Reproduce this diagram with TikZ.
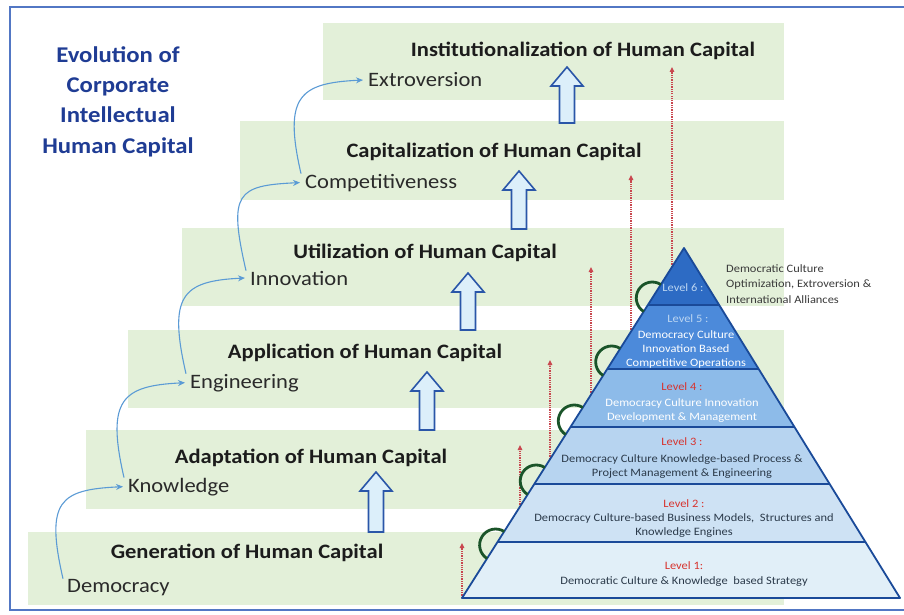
\documentclass[tikz,border=0pt]{standalone}
\usepackage{fontspec}
\setmainfont{Carlito}[FakeStretch=1.1]
\usetikzlibrary{calc,arrows.meta}
\definecolor{frameblue}{HTML}{5277C4}
\definecolor{bandgreen}{HTML}{E3F0D9}
\definecolor{titleblue}{HTML}{1F3C94}
\definecolor{textdark}{HTML}{1C1C1C}
\definecolor{subdark}{HTML}{2A2A2A}
\definecolor{curveblue}{HTML}{5B9BD5}
\definecolor{blockfill}{HTML}{DCEFFA}
\definecolor{blockdraw}{HTML}{2A56A8}
\definecolor{reddot}{HTML}{C9474F}
\definecolor{pyrsix}{HTML}{2D6BC4}
\definecolor{pyrfive}{HTML}{4C8ADA}
\definecolor{pyrfour}{HTML}{8DBBE9}
\definecolor{pyrthree}{HTML}{B7D4F0}
\definecolor{pyrtwo}{HTML}{CEE2F4}
\definecolor{pyrone}{HTML}{E1EFF8}
\definecolor{pyredge}{HTML}{1A4A99}
\definecolor{arcgreen}{HTML}{1A5429}
\definecolor{lvlred}{HTML}{D7332E}
\definecolor{lvllight}{HTML}{BCD6F2}
\definecolor{lvldark}{HTML}{2B3A4A}
\definecolor{apexgray}{HTML}{3A3A3A}
\tikzset{
 bandtitle/.style={font=\fontsize{20.5}{24}\selectfont\bfseries, text=textdark, inner sep=0pt, anchor=base},
 sublabel/.style={font=\fontsize{20.5}{24}\selectfont, text=subdark, inner sep=0pt, anchor=base west},
 maintitle/.style={font=\fontsize{22.5}{30}\selectfont\bfseries, text=titleblue, inner sep=0pt, anchor=base},
 lvltxt/.style={font=\fontsize{11.3}{14}\selectfont, inner sep=0pt, anchor=base},
 apextxt/.style={font=\fontsize{11.3}{14}\selectfont, text=apexgray, inner sep=0pt, anchor=base west},
 bluecurve/.style={draw=curveblue, line width=1.1pt, -{Stealth[length=7pt,width=6pt]}},
 redarrow/.style={draw=reddot, line width=1.3pt, densely dotted, -{Triangle[length=5pt,width=4.5pt]}},
 blockarrow/.style={draw=blockdraw, fill=blockfill, line width=1.6pt, line join=miter},
 arcstyle/.style={draw=arcgreen, line width=2.8pt},
 pyrline/.style={draw=pyredge, line width=1.8pt},
}
\newcommand\hcblock[3]{\draw[blockarrow] ({#1-7.5},#3) -- ({#1-7.5},{#2+19}) -- ({#1-16},{#2+19}) -- (#1,#2) -- ({#1+16},{#2+19}) -- ({#1+7.5},{#2+19}) -- ({#1+7.5},#3) -- cycle;}
\newcommand\hcarc[1]{\draw[arcstyle] ($(apex)!#1!(bl)$) ++(57.6:16pt) arc[start angle=57.6, end angle=237.6, radius=16pt];}
\begin{document}
\begin{tikzpicture}[x=1pt,y=-1pt]
\useasboundingbox (0,0) rectangle (904,615);
\fill[white] (0,0) rectangle (904,615);
% frame
\draw[frameblue, line width=1.5pt] (910,7) -- (10,7) -- (10,610) -- (910,610);
% bands
\fill[bandgreen] (28,532) rectangle (784,605);
\fill[bandgreen] (86,430) rectangle (784,509);
\fill[bandgreen] (128,330) rectangle (784,408);
\fill[bandgreen] (182,228) rectangle (784,306);
\fill[bandgreen] (240,121) rectangle (784,200);
\fill[bandgreen] (323,23) rectangle (784,100);
% main title
\node[maintitle] (ttl1) at (118,63) {Evolution of};
\node[maintitle] (ttl2) at (118,93) {Corporate};
\node[maintitle] (ttl3) at (118,123) {Intellectual};
\node[maintitle] (ttl4) at (118,153) {Human Capital};
% band titles
\node[bandtitle] (t1) at (247,558) {Generation of Human Capital};
\node[bandtitle] (t2) at (311,463) {Adaptation of Human Capital};
\node[bandtitle] (t3) at (365,358) {Application of Human Capital};
\node[bandtitle] (t4) at (425,258) {Utilization of Human Capital};
\node[bandtitle] (t5) at (494,157) {Capitalization of Human Capital};
\node[bandtitle] (t6) at (583,57) {Institutionalization of Human Capital};
% sub labels
\node[sublabel] (s1) at (67,592) {Democracy};
\node[sublabel] (s2) at (128,492) {Knowledge};
\node[sublabel] (s3) at (190,388) {Engineering};
\node[sublabel] (s4) at (250,285) {Innovation};
\node[sublabel] (s5) at (305,188) {Competitiveness};
\node[sublabel] (s6) at (368,87) {Extroversion};
% blue curves
\draw[bluecurve] ([xshift=-4pt]s1.north west) .. controls +(-18,-78) and +(-63,3) .. ([xshift=-5pt]s2.west);
\draw[bluecurve] ([xshift=-4pt]s2.north west) .. controls +(-18,-78) and +(-63,3) .. ([xshift=-5pt]s3.west);
\draw[bluecurve] ([xshift=-4pt]s3.north west) .. controls +(-18,-78) and +(-63,3) .. ([xshift=-5pt]s4.west);
\draw[bluecurve] ([xshift=-4pt]s4.north west) .. controls +(-18,-78) and +(-63,3) .. ([xshift=-5pt]s5.west);
\draw[bluecurve] ([xshift=-4pt]s5.north west) .. controls +(-18,-78) and +(-63,3) .. ([xshift=-5pt]s6.west);
% block arrows
\hcblock{376}{472}{532}
\hcblock{427}{372}{430}
\hcblock{468}{273}{330}
\hcblock{519}{171}{229}
\hcblock{567}{67}{123}
% pyramid coordinates
\coordinate (apex) at (684,248);
\coordinate (bl) at (462,598);
\coordinate (br) at (900,598);
% red dotted arrows
\coordinate (ra1) at (462,598); \coordinate (rb1) at (462,543);
\coordinate (ra2) at (520,507); \coordinate (rb2) at (520,445);
\coordinate (ra3) at (550,459); \coordinate (rb3) at (550,360);
\coordinate (ra4) at (591,395); \coordinate (rb4) at (591,267);
\coordinate (ra5) at (631,332); \coordinate (rb5) at (631,175);
\coordinate (ra6) at (672,267); \coordinate (rb6) at (672,67);
\foreach \i in {1,...,6}{\draw[redarrow] (ra\i) -- (rb\i);}
% pyramid layers
\coordinate (L1) at ($(apex)!0.1629!(bl)$); \coordinate (R1) at ($(apex)!0.1629!(br)$);
\coordinate (L2) at ($(apex)!0.3457!(bl)$); \coordinate (R2) at ($(apex)!0.3457!(br)$);
\coordinate (L3) at ($(apex)!0.5114!(bl)$); \coordinate (R3) at ($(apex)!0.5114!(br)$);
\coordinate (L4) at ($(apex)!0.6743!(bl)$); \coordinate (R4) at ($(apex)!0.6743!(br)$);
\coordinate (L5) at ($(apex)!0.84!(bl)$); \coordinate (R5) at ($(apex)!0.84!(br)$);
\fill[pyrsix] (apex) -- (L1) -- (R1) -- cycle;
\fill[pyrfive] (L1) -- (L2) -- (R2) -- (R1) -- cycle;
\fill[pyrfour] (L2) -- (L3) -- (R3) -- (R2) -- cycle;
\fill[pyrthree] (L3) -- (L4) -- (R4) -- (R3) -- cycle;
\fill[pyrtwo] (L4) -- (L5) -- (R5) -- (R4) -- cycle;
\fill[pyrone] (L5) -- (bl) -- (br) -- (R5) -- cycle;
\draw[pyrline] (L1) -- (R1) (L2) -- (R2) (L3) -- (R3) (L4) -- (R4) (L5) -- (R5);
\draw[pyrline, line join=round] (apex) -- (bl) -- (br) -- cycle;
% green arcs
\hcarc{0.1429}
\hcarc{0.3257}
\hcarc{0.4943}
\hcarc{0.6657}
\hcarc{0.8486}
% level texts
\node[lvltxt, text=lvllight] (v6a) at (683,291) {Level 6 :};
\node[lvltxt, text=lvllight] (v5a) at (688,322) {Level 5 :};
\node[lvltxt, text=white] (v5b) at (686,338) {Democracy Culture};
\node[lvltxt, text=white] (v5c) at (686,352) {Innovation Based};
\node[lvltxt, text=white] (v5d) at (686,366) {Competitive Operations};
\node[lvltxt, text=lvlred] (v4a) at (682,390) {Level 4 :};
\node[lvltxt, text=white] (v4b) at (682,406) {Democracy Culture Innovation};
\node[lvltxt, text=white] (v4c) at (682,420) {Development \& Management};
\node[lvltxt, text=lvlred] (v3a) at (682,445) {Level 3 :};
\node[lvltxt, text=lvldark] (v3b) at (682,462) {Democracy Culture Knowledge-based Process \&};
\node[lvltxt, text=lvldark] (v3c) at (682,476) {Project Management \& Engineering};
\node[lvltxt, text=lvlred] (v2a) at (684,507) {Level 2 :};
\node[lvltxt, text=lvldark] (v2b) at (684,521) {Democracy Culture-based Business Models,\ \ Structures and};
\node[lvltxt, text=lvldark] (v2c) at (684,535) {Knowledge Engines};
\node[lvltxt, text=lvlred] (v1a) at (684,569) {Level 1:};
\node[lvltxt, text=lvldark] (v1b) at (684,584) {Democratic Culture \& Knowledge\ \ based Strategy};
% apex text
\node[apextxt] (ap1) at (726,272) {Democratic Culture};
\node[apextxt] (ap2) at (726,287) {Optimization, Extroversion \&};
\node[apextxt] (ap3) at (726,303) {International Alliances};
\end{tikzpicture}
\end{document}
